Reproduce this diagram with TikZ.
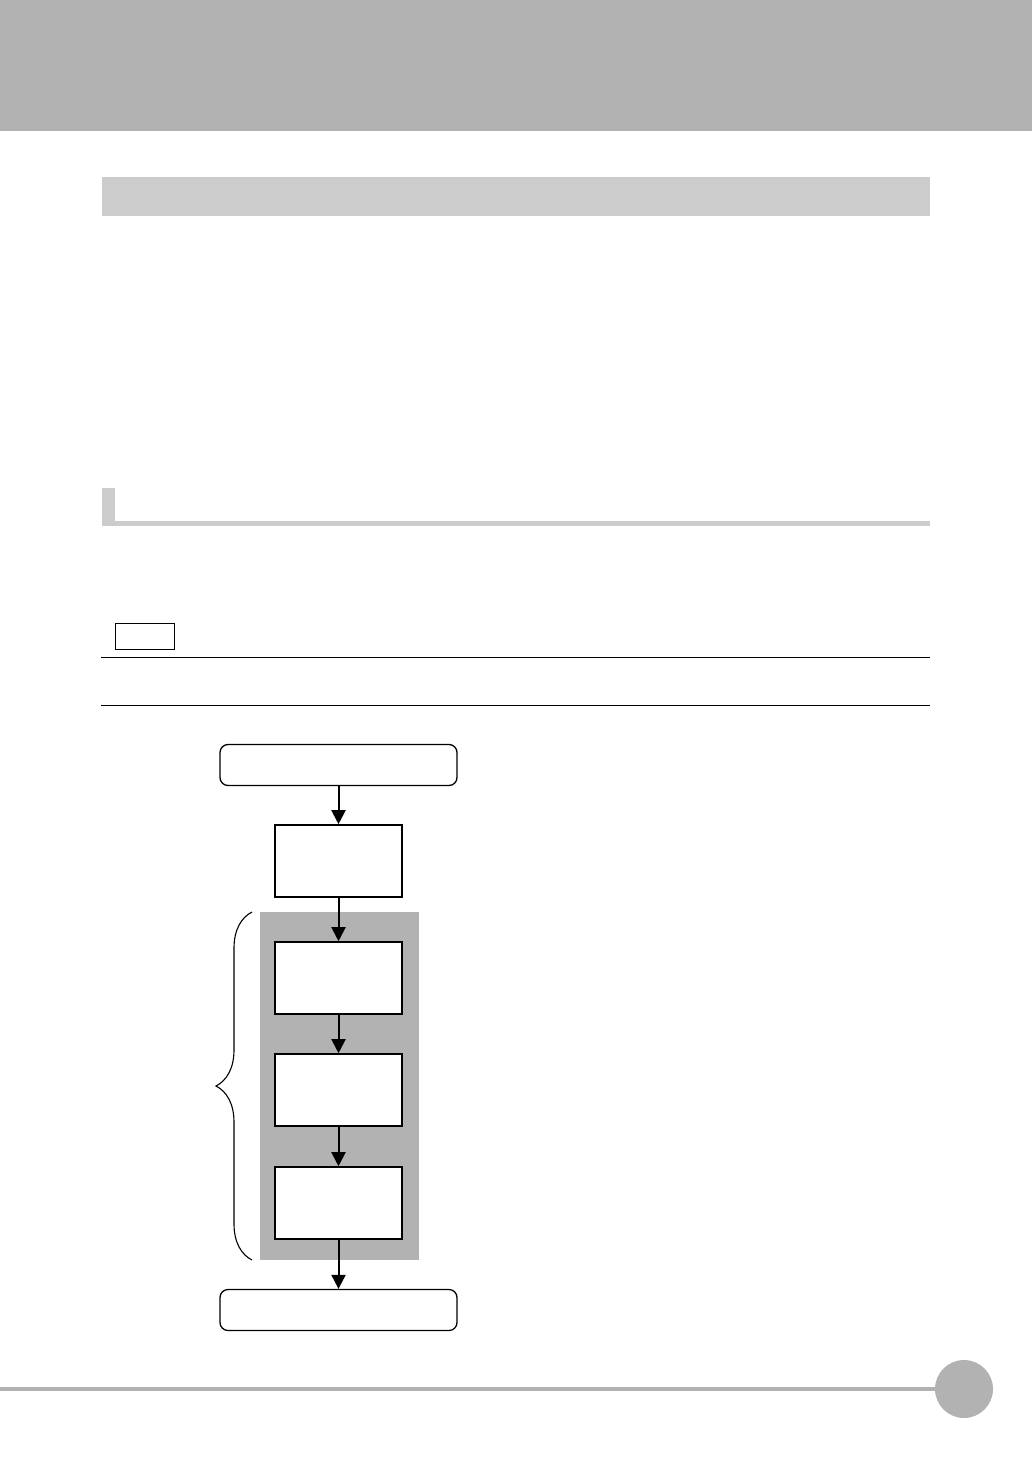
\documentclass[tikz,border=0pt]{standalone}
\usetikzlibrary{arrows.meta,decorations.pathreplacing}
\definecolor{bandgray}{gray}{0.70}
\definecolor{bargray}{gray}{0.80}
\tikzstyle{endbox}=[draw=black,fill=white,rounded corners=8pt,minimum width=237pt,minimum height=41pt,inner sep=0pt,line width=1.3pt]
\tikzstyle{stepbox}=[draw=black,fill=white,minimum width=127pt,minimum height=72pt,inner sep=0pt,line width=1.6pt]
\tikzstyle{flow}=[line width=2pt,-{Triangle[width=14pt,length=14pt]}]

\begin{document}
\begin{tikzpicture}[x=1pt, y=-1pt]
\useasboundingbox (0,0) rectangle (1032,1458);
% page head
\fill[bandgray] (0,0) rectangle (1032,131);
\fill[bargray] (102,177) rectangle (930,216);
\fill[bargray] (102,488) rectangle (115,524);
\fill[bargray] (102,521) rectangle (930,526);
\draw[line width=1pt] (115,623) rectangle (174,649);
\draw[line width=1pt] (101,657) -- (930,657);
\draw[line width=1pt] (101,705) -- (930,705);
% flow
\fill[bandgray] (260,912) rectangle (419,1260);
\node[endbox] (start) at (338.5,765) {};
\node[stepbox] (stepA) at (338.5,861) {};
\node[stepbox] (stepB) at (338.5,978) {};
\node[stepbox] (stepC) at (338.5,1090) {};
\node[stepbox] (stepD) at (338.5,1203) {};
\node[endbox] (finish) at (338.5,1310) {};
\draw[flow] (start) -- (stepA);
\draw[flow] (stepA) -- (stepB);
\draw[flow] (stepB) -- (stepC);
\draw[flow] (stepC) -- (stepD);
\draw[flow] (stepD) -- (finish);
\draw[line width=1.1pt, decorate, decoration={brace, amplitude=36pt}] (252,1260) -- (252,912);
% page foot
\fill[bandgray] (0,1387) rectangle (936,1391);
\fill[bandgray] (964,1389) circle (29);
\end{tikzpicture}
\end{document}
